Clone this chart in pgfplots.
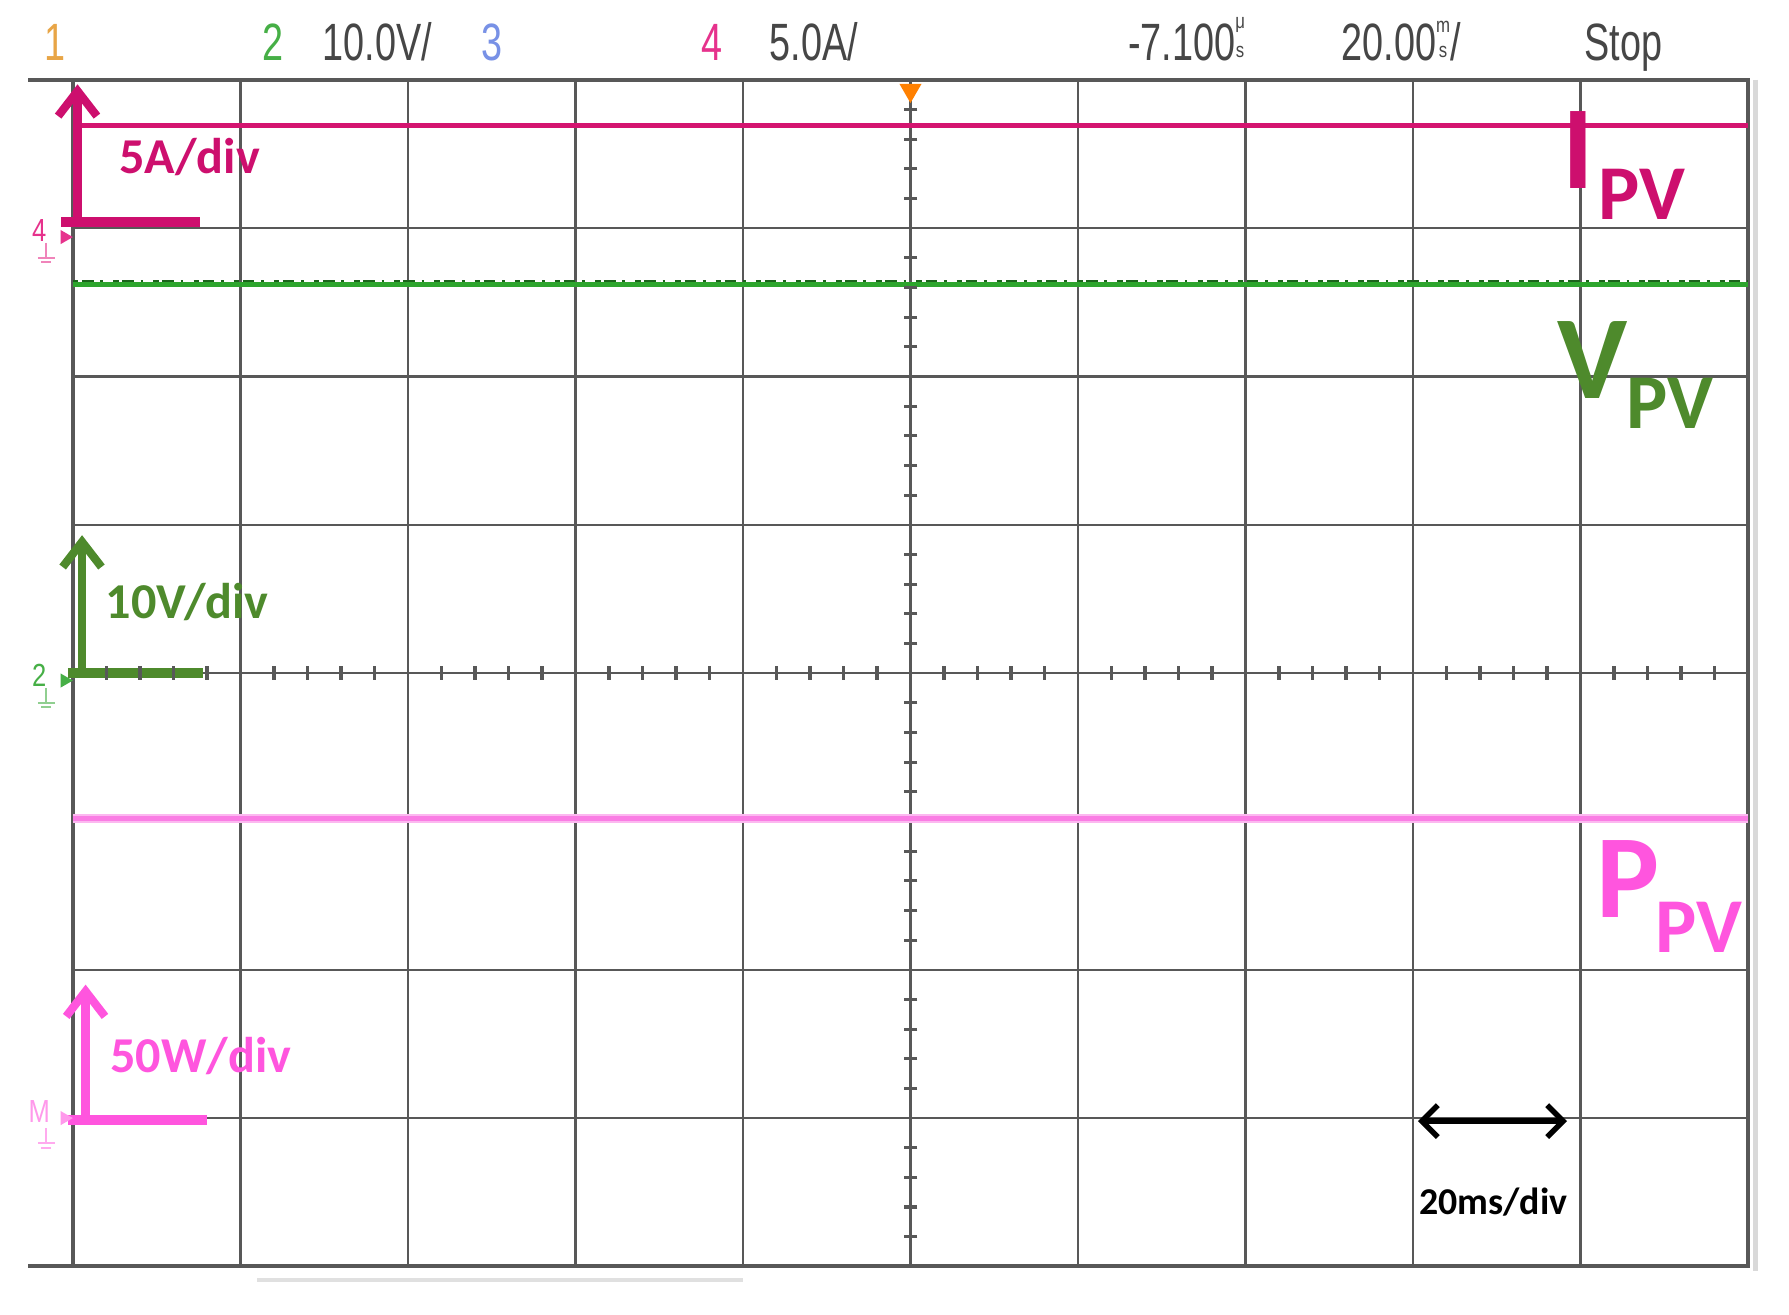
\documentclass[border=0pt]{standalone}
\usepackage{pgfplots}
\pgfplotsset{compat=1.18}
\usepackage{fontspec}
\usepackage{graphicx}
\setmainfont{Carlito}
\newfontfamily\scopefont{Liberation Sans}
\usetikzlibrary{arrows.meta}
\definecolor{ipv}{RGB}{212,20,112}
\definecolor{ipvlab}{RGB}{205,15,110}
\definecolor{vtrace}{RGB}{45,165,45}
\definecolor{vlab}{RGB}{78,138,44}
\definecolor{ptrace}{RGB}{250,125,228}
\definecolor{plab}{RGB}{255,85,222}
\definecolor{gridc}{RGB}{88,88,88}
\definecolor{hdr}{RGB}{70,70,70}
\definecolor{ch1}{RGB}{232,165,70}
\definecolor{ch2}{RGB}{70,175,70}
\definecolor{ch3}{RGB}{120,145,230}
\definecolor{ch4}{RGB}{230,50,140}
\newcommand\hd[1]{\scalebox{0.72}[1]{#1}}
\newcommand\stk[2]{\raisebox{0.1ex}{\scalebox{0.8}[1]{\fontsize{4.6}{5.2}\selectfont\shortstack{#1\\#2}}}}
\tikzset{scalearrow/.style={line width=1.8pt, -{Straight Barb[length=5.5pt,width=8.5pt]}}}
\begin{document}
\begin{tikzpicture}
\useasboundingbox (0,0) rectangle (392pt,288pt);
\fill[white] (0,0) rectangle (392pt,288pt);
\begin{axis}[
  at={(16pt,10.5pt)}, anchor=south west,
  scale only axis, width=367pt, height=260pt,
  xmin=0, xmax=10, ymin=0, ymax=8,
  xtick={0,...,10}, ytick={0,...,8},
  xticklabels={}, yticklabels={},
  major tick length=0pt,
  grid=major,
  major grid style={gridc, line width=0.55pt},
  axis line style={gridc, line width=0.9pt},
  clip=false,
]
% extensions of frame to the left and shadow on the right
\draw[gridc, line width=0.9pt] (axis cs:-0.266,8) -- (axis cs:0,8);
\draw[gridc, line width=0.9pt] (axis cs:-0.266,0) -- (axis cs:0,0);
\draw[black!15, line width=1.2pt] (axis cs:10.045,8) -- (axis cs:10.045,-0.03);
\draw[black!12, line width=0.8pt] (axis cs:1.1,-0.09) -- (axis cs:4.0,-0.09);
% centre graticule ticks
\addplot[only marks, mark=-, mark size=1.5pt, gridc, mark options={line width=0.7pt}] coordinates {
(5,0.2)(5,0.4)(5,0.6)(5,0.8)(5,1.2)(5,1.4)(5,1.6)(5,1.8)
(5,2.2)(5,2.4)(5,2.6)(5,2.8)(5,3.2)(5,3.4)(5,3.6)(5,3.8)
(5,4.2)(5,4.4)(5,4.6)(5,4.8)(5,5.2)(5,5.4)(5,5.6)(5,5.8)
(5,6.2)(5,6.4)(5,6.6)(5,6.8)(5,7.2)(5,7.4)(5,7.6)(5,7.8)};
\addplot[only marks, mark=|, mark size=1.5pt, gridc, mark options={line width=0.7pt}] coordinates {
(0.2,4)(0.4,4)(0.6,4)(0.8,4)(1.2,4)(1.4,4)(1.6,4)(1.8,4)
(2.2,4)(2.4,4)(2.6,4)(2.8,4)(3.2,4)(3.4,4)(3.6,4)(3.8,4)
(4.2,4)(4.4,4)(4.6,4)(4.8,4)(5.2,4)(5.4,4)(5.6,4)(5.8,4)
(6.2,4)(6.4,4)(6.6,4)(6.8,4)(7.2,4)(7.4,4)(7.6,4)(7.8,4)
(8.2,4)(8.4,4)(8.6,4)(8.8,4)(9.2,4)(9.4,4)(9.6,4)(9.8,4)};
% traces
\addplot[ipv, line width=1.1pt] coordinates {(0,7.69) (10,7.69)};
\addplot[vtrace!60!black, line width=0.7pt, dash pattern=on 1.2pt off 0.8pt on 2.5pt off 1.5pt on 0.6pt off 2.2pt, yshift=0.55pt] coordinates {(0,6.62) (10,6.62)};
\addplot[vtrace, line width=1.0pt] coordinates {(0,6.62) (10,6.62)};
\addplot[ptrace!55!white, line width=2.0pt] coordinates {(0,3.02) (10,3.02)};
\addplot[ptrace, line width=1.2pt] coordinates {(0,3.02) (10,3.02)};
% trigger marker
\addplot[only marks, mark=triangle*, mark size=2.4pt, mark options={rotate=180, fill=orange, draw=orange}] coordinates {(5,7.93)};
% header
\begin{scope}[every node/.style={anchor=base west, inner sep=0pt, font=\scopefont\fontsize{11.5}{12}\selectfont}]
\node[text=ch1] at (axis cs:-0.177,8.13) {\hd{1}};
\node[text=ch2] at (axis cs:1.124,8.13) {\hd{2}};
\node[text=hdr] at (axis cs:1.485,8.13) {\hd{10.0V/}};
\node[text=ch3] at (axis cs:2.432,8.13) {\hd{3}};
\node[text=ch4] at (axis cs:3.747,8.13) {\hd{4}};
\node[text=hdr] at (axis cs:4.155,8.13) {\hd{5.0A/}};
\node[text=hdr] at (axis cs:6.294,8.13) {\hd{-7.100}\stk{μ}{s}};
\node[text=hdr] at (axis cs:7.568,8.13) {\hd{20.00}\stk{m}{s}\hd{/}};
\node[text=hdr] at (axis cs:9.019,8.13) {\hd{Stop}};
\end{scope}
% scale annotations
\draw[ipvlab, scalearrow] (axis cs:0.027,7.04) -- (axis cs:0.027,7.97);
\draw[ipvlab, line width=2.2pt] (axis cs:-0.07,7.04) -- (axis cs:0.756,7.04);
\node[anchor=base west, inner sep=0pt, text=ipvlab, font=\fontsize{11}{11}\selectfont\bfseries] at (axis cs:0.272,7.37) {5A/div};
\draw[vlab, scalearrow] (axis cs:0.054,4.0) -- (axis cs:0.054,4.93);
\draw[vlab, line width=2.2pt] (axis cs:-0.03,4.0) -- (axis cs:0.777,4.0);
\node[anchor=base west, inner sep=0pt, text=vlab, font=\fontsize{11}{11}\selectfont\bfseries] at (axis cs:0.19,4.37) {10V/div};
\draw[plab, scalearrow] (axis cs:0.075,0.99) -- (axis cs:0.075,1.9);
\draw[plab, line width=2.2pt] (axis cs:-0.03,0.99) -- (axis cs:0.80,0.99);
\node[anchor=base west, inner sep=0pt, text=plab, font=\fontsize{11}{11}\selectfont\bfseries] at (axis cs:0.218,1.31) {50W/div};
\draw[black, line width=1.2pt, {Straight Barb[length=3.5pt,width=7pt]}-{Straight Barb[length=3.5pt,width=7pt]}] (axis cs:8.03,0.98) -- (axis cs:8.92,0.98);
\node[anchor=base, inner sep=0pt, text=black, font=\fontsize{8.3}{8.3}\selectfont\bfseries] at (axis cs:8.48,0.35) {20ms/div};
% trace labels
\node[anchor=base west, inner sep=0pt, text=ipvlab, font=\fontsize{26}{26}\selectfont\bfseries] at (axis cs:8.89,7.27) {I};
\node[anchor=base west, inner sep=0pt, text=ipvlab, font=\fontsize{17}{17}\selectfont\bfseries] at (axis cs:9.10,7.06) {PV};
\node[anchor=base west, inner sep=0pt, text=vlab, font=\fontsize{26}{26}\selectfont\bfseries] at (axis cs:8.86,5.85) {V};
\node[anchor=base west, inner sep=0pt, text=vlab, font=\fontsize{17}{17}\selectfont\bfseries] at (axis cs:9.27,5.65) {PV};
\node[anchor=base west, inner sep=0pt, text=plab, font=\fontsize{26}{26}\selectfont\bfseries] at (axis cs:9.09,2.35) {P};
\node[anchor=base west, inner sep=0pt, text=plab, font=\fontsize{17}{17}\selectfont\bfseries] at (axis cs:9.44,2.115) {PV};
% ground markers
\node[anchor=base west, inner sep=0pt, text=ch4, font=\scopefont\fontsize{7}{7}\selectfont] at (axis cs:-0.25,6.91) {\scalebox{0.8}[1]{4}};
\addplot[only marks, mark=triangle*, mark size=1.4pt, mark options={rotate=-90, fill=ch4, draw=ch4}] coordinates {(-0.05,6.94)};
\draw[ch4!60, line width=0.5pt] (axis cs:-0.16,6.90) -- (axis cs:-0.16,6.80) (axis cs:-0.21,6.80) -- (axis cs:-0.11,6.80) (axis cs:-0.19,6.77) -- (axis cs:-0.13,6.77);
\node[anchor=base west, inner sep=0pt, text=ch2, font=\scopefont\fontsize{7}{7}\selectfont] at (axis cs:-0.25,3.91) {\scalebox{0.8}[1]{2}};
\addplot[only marks, mark=triangle*, mark size=1.4pt, mark options={rotate=-90, fill=ch2, draw=ch2}] coordinates {(-0.05,3.95)};
\draw[ch2!60, line width=0.5pt] (axis cs:-0.16,3.90) -- (axis cs:-0.16,3.80) (axis cs:-0.21,3.80) -- (axis cs:-0.11,3.80) (axis cs:-0.19,3.77) -- (axis cs:-0.13,3.77);
\node[anchor=base west, inner sep=0pt, text=plab!60, font=\scopefont\fontsize{7}{7}\selectfont] at (axis cs:-0.27,0.97) {\scalebox{0.8}[1]{M}};
\addplot[only marks, mark=triangle*, mark size=1.4pt, mark options={rotate=-90, fill=plab!60, draw=plab!60}] coordinates {(-0.05,1.0)};
\draw[plab!50, line width=0.5pt] (axis cs:-0.16,0.93) -- (axis cs:-0.16,0.83) (axis cs:-0.21,0.83) -- (axis cs:-0.11,0.83) (axis cs:-0.19,0.80) -- (axis cs:-0.13,0.80);
\end{axis}
\end{tikzpicture}
\end{document}
